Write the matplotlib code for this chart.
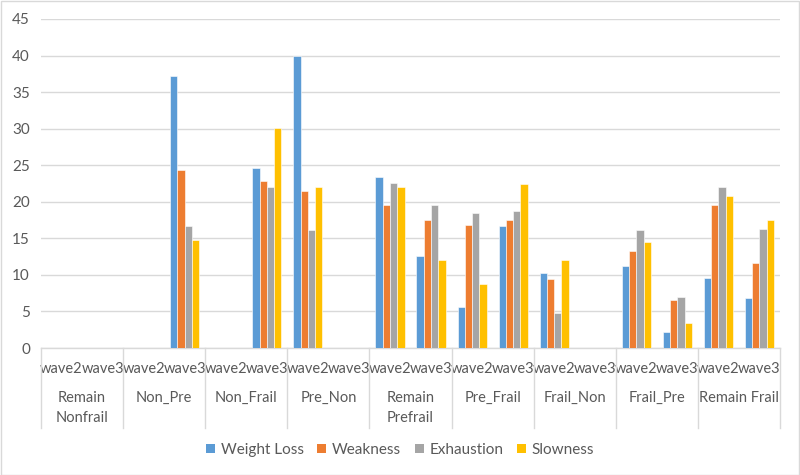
import numpy as np
import matplotlib
matplotlib.use("Agg")
import matplotlib.pyplot as plt
from matplotlib.patches import Rectangle
import matplotlib.transforms as mtransforms

plt.rcParams['font.family'] = ['Lato', 'DejaVu Sans']

groups = ["Remain\nNonfrail", "Non_Pre", "Non_Frail", "Pre_Non", "Remain\nPrefrail",
          "Pre_Frail", "Frail_Non", "Frail_Pre", "Remain Frail"]
waves = ["wave2", "wave3"]
series = ["Weight Loss", "Weakness", "Exhaustion", "Slowness"]
colors = ["#5B9BD5", "#ED7D31", "#A5A5A5", "#FFC000"]
nan = np.nan
# order: (group, wave) pairs
weight_loss = [nan, nan, nan, 37.2, nan, 24.6, 40.0, nan, 23.4, 12.6, 5.6, 16.7, 10.2, nan, 11.2, 2.2, 9.6, 6.8]
weakness    = [nan, nan, nan, 24.3, nan, 22.8, 21.5, nan, 19.6, 17.5, 16.8, 17.5, 9.4, nan, 13.2, 6.5, 19.6, 11.6]
exhaustion  = [nan, nan, nan, 16.7, nan, 22.0, 16.1, nan, 22.6, 19.5, 18.5, 18.8, 4.8, nan, 16.1, 7.0, 22.0, 16.3]
slowness    = [nan, nan, nan, 14.8, nan, 30.1, 22.0, nan, 22.0, 12.0, 8.8, 22.4, 12.0, nan, 14.5, 3.4, 20.8, 17.5]
yticks = [0, 5, 10, 15, 20, 25, 30, 35, 40, 45]

data = [weight_loss, weakness, exhaustion, slowness]
n = len(groups) * len(waves)
x = np.arange(n)

W, H = 800, 475
fig = plt.figure(figsize=(8, 4.75), dpi=100)
fig.patches.append(Rectangle((0.5 / W, 0.5 / H), 1 - 1.5 / W, 1 - 1.5 / H, transform=fig.transFigure,
                             fill=False, edgecolor="#D9D9D9", linewidth=1.0))
ax = fig.add_axes([41 / W, 1 - 348 / H, (780 - 41) / W, (348 - 19) / H])

txt = "#595959"
fs = 10.5
bw = 0.177
for i, (vals, c, name) in enumerate(zip(data, colors, series)):
    offs = (i - 1.5) * bw
    ax.bar(x + offs, vals, width=bw, color=c, edgecolor="white", linewidth=0.4, label=name, zorder=3)

ax.set_xlim(-0.5, n - 0.5)
ax.set_ylim(0, 45)
ax.set_yticks(yticks)
ax.set_yticklabels([str(v) for v in yticks], color=txt, fontsize=11)
ax.tick_params(axis='y', length=0, pad=8)
ax.yaxis.grid(True, color="#D9D9D9", linewidth=1.0, zorder=0)
ax.set_axisbelow(True)
for s in ["top", "right", "left"]:
    ax.spines[s].set_visible(False)
ax.spines["bottom"].set_color("#D9D9D9")
ax.spines["bottom"].set_linewidth(1.0)

ax.set_xticks(x)
ax.set_xticklabels(waves * len(groups), color=txt, fontsize=fs)
ax.tick_params(axis='x', length=0, pad=10)

trans = mtransforms.blended_transform_factory(ax.transData, ax.transAxes)
ah = 348 - 19
for k in range(len(groups) + 1):
    xb = 2 * k - 0.5
    ax.plot([xb, xb], [0, -(428 - 348) / ah], transform=trans, color="#D9D9D9",
            linewidth=1.0, clip_on=False)
for k, g in enumerate(groups):
    ax.text(2 * k + 0.5, -(391 - 348) / ah, g, transform=trans, ha='center', va='top',
            color=txt, fontsize=fs, linespacing=1.5)

leg = fig.legend(loc='center', bbox_to_anchor=(0.5, 1 - 450 / H), ncol=4, frameon=False,
                 fontsize=11, handlelength=0.6, handleheight=0.6, handletextpad=0.35,
                 columnspacing=0.9, labelcolor=txt)
for h in leg.legend_handles:
    h.set_linewidth(0)

fig.savefig("out.png", dpi=100)
